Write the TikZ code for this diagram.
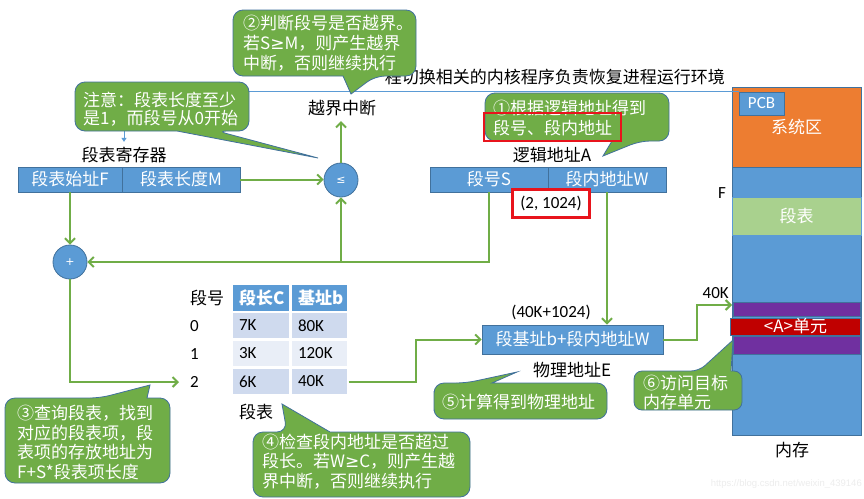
\documentclass[tikz,border=0pt]{standalone}
\usepackage{fontspec}
\setmainfont{Noto Sans CJK SC}
\newfontfamily\latfont{Carlito}
\newfontfamily\wmfont{Liberation Sans}
\newfontfamily\symfont{DejaVu Sans}
\usetikzlibrary{arrows.meta}
\definecolor{cgreen}{HTML}{70AD47}
\definecolor{cborder}{HTML}{41719C}
\definecolor{cblue}{HTML}{5B9BD5}
\definecolor{corange}{HTML}{ED7D31}
\definecolor{clgreen}{HTML}{A9D18E}
\definecolor{cpurple}{HTML}{7030A0}
\definecolor{cred}{HTML}{C00000}
\definecolor{redc}{HTML}{E8141C}
\definecolor{crowa}{HTML}{CFDAEE}
\definecolor{crowb}{HTML}{E9EEF7}
\begin{document}
\begin{tikzpicture}[x=1pt,y=-1pt,
  lbl/.style={inner sep=2pt, font=\fontsize{17}{20}\selectfont},
  latlbl/.style={inner sep=2pt, font=\latfont\fontsize{17}{20}\selectfont},
  bluebox/.style={rectangle, draw=cborder, fill=cblue, line width=0.8pt, text=white, inner sep=0pt, minimum height=25pt, font=\fontsize{17}{20}\selectfont},
  circ/.style={circle, fill=cblue, draw=cborder, line width=0.8pt, minimum size=34pt, inner sep=0pt, text=white, font=\symfont\fontsize{11}{12}\selectfont},
  callout/.style={fill=cgreen, draw=cborder, line width=0.8pt},
  ctxt/.style={text=white, align=left, anchor=west, inner sep=0pt},
  garrow/.style={draw=cgreen, line width=2pt, -{Straight Barb[length=5pt,width=10pt]}},
  bline/.style={draw=cblue, line width=0.9pt, -{Triangle[length=4pt,width=5pt]}},
  cell/.style={rectangle, draw=white, line width=1.2pt, minimum height=27pt, inner xsep=7pt, inner ysep=0pt, align=left, font=\latfont\fontsize{17}{20}\selectfont},
  hdr/.style={fill=cblue, text=white, font=\fontsize{17}{20}\selectfont\bfseries},
  membox/.style={rectangle, inner sep=0pt, line width=0.8pt}
]
\useasboundingbox (0,0) rectangle (864,498);
\fill[white] (0,0) rectangle (864,498);

% ---------- memory column ----------
\node[membox, fill=cblue, draw=cborder, minimum width=129pt, minimum height=348pt] (mem) at (796.5,261) {};
\node[membox, fill=corange, draw=cborder, minimum width=129pt, minimum height=80pt, text=white, font=\fontsize{17}{20}\selectfont] (sys) at (796.5,127) {系统区};
\node[membox, fill=clgreen, draw=cblue, minimum width=129pt, minimum height=38pt, text=white, font=\fontsize{17}{20}\selectfont] (segt) at (796.5,216) {段表};
\node[membox, fill=cpurple, draw=cborder, line width=0.5pt, minimum width=127pt, minimum height=14pt] (pu1) at (797,309) {};
\node[membox, fill=cred, draw=cborder, line width=0.5pt, minimum width=130pt, minimum height=17pt, text=white, font=\fontsize{17}{20}\selectfont] (au) at (795.5,326.5) {<A>单元};
\node[membox, fill=cpurple, draw=cborder, line width=0.5pt, minimum width=127pt, minimum height=18pt] (pu2) at (797,345) {};
\node[membox, fill=cblue, draw=cborder, minimum width=45pt, minimum height=23pt, text=white, font=\latfont\fontsize{17}{20}\selectfont] (pcb) at (761.5,103.5) {PCB};
\node[latlbl] (flbl) at (722,193) {F};
\node[latlbl, anchor=east] (k40l) at (731,293) {40K};
\node[lbl] (meml) at (792,450) {内存};
\coordinate (k40) at (732,305);

% ---------- top text ----------
\node[lbl, anchor=east] (toptxt) at (727,77) {程切换相关的内核程序负责恢复进程运行环境};

% ---------- segment table register ----------
\node[bluebox, minimum width=104pt] (reg1) at (70,179.5) {段表始址F};
\node[bluebox, minimum width=118pt] (reg2) at (181,179.5) {段表长度M};
\node[lbl] (regl) at (124,155) {段表寄存器};

% ---------- logical address ----------
\node[bluebox, minimum width=118pt] (la1) at (489,179.5) {段号S};
\node[bluebox, minimum width=118pt] (la2) at (607,179.5) {段内地址W};
\node[lbl] (lal) at (552,155) {逻辑地址A};
\node[draw=redc, line width=2.5pt, fill=white, minimum width=77pt, minimum height=28pt, inner sep=0pt, font=\latfont\fontsize{17}{20}\selectfont] (pair) at (551,203.5) {(2, 1024)};

% ---------- comparators ----------
\node[circ] (le) at (341,180) {≤};
\node[circ] (plus) at (70,262) {+};
\node[lbl] (ovf) at (342,108) {越界中断};

% ---------- segment table ----------
\node[lbl, anchor=west, inner sep=0pt] (th) at (190,298) {段号};
\node[latlbl, anchor=west, inner sep=0pt] (n0) at (190,326) {0};
\node[latlbl, anchor=west, inner sep=0pt] (n1) at (190,354) {1};
\node[latlbl, anchor=west, inner sep=0pt] (n2) at (190,382) {2};
\node[cell, hdr, text width=44pt] (h1) at (261,298) {段长C};
\node[cell, hdr, text width=43pt] (h2) at (319.5,298) {基址b};
\node[cell, fill=crowa, text width=44pt] (r0a) at (261,325.5) {7K};
\node[cell, fill=crowa, text width=43pt] (r0b) at (319.5,325.5) {80K};
\node[cell, fill=crowb, text width=44pt] (r1a) at (261,353.5) {3K};
\node[cell, fill=crowb, text width=43pt] (r1b) at (319.5,353.5) {120K};
\node[cell, fill=crowa, text width=44pt] (r2a) at (261,381.5) {6K};
\node[cell, fill=crowa, text width=43pt] (r2b) at (319.5,381.5) {40K};
\node[lbl] (tcap) at (256,412) {段表};

% ---------- physical address ----------
\node[bluebox, minimum width=181pt, minimum height=29pt] (pa) at (572.5,339.5) {段基址b+段内地址W};
\node[latlbl] (paval) at (551,312) {(40K+1024)};
\node[lbl] (pal) at (572,370) {物理地址E};

% ---------- connectors ----------
\draw[bline, shorten >=3pt] (pcb.north west) -| (regl.north);
\draw[garrow] (reg2.east) -- (reg2.east -| le.west);
\draw[garrow, shorten >=3pt] (le.north) -- (le.north |- ovf.south);
\draw[garrow] (reg1.south) -- (plus.north);
\draw[garrow] (la1.south) -- (la1.south |- plus.east) -- (plus.east);
\draw[garrow] (le.south |- plus.east) -- (le.south);
\draw[garrow] (la2.south) -- (la2.south |- pa.north);
\draw[garrow, shorten >=11pt] (plus.south) |- (n2.west);
\draw[garrow] (r2b.east) -- ++(67,0) |- (pa.west);
\draw[garrow] (pa.east) -- ++(34,0) |- (k40);

% ---------- callouts ----------
% (2)
\path[callout] (233,43) [rounded corners=10pt] -- (233,10) -- (416,10) -- (416,76) -- (375,76) [sharp corners] -- (351,94) -- (343,76) [rounded corners=10pt] -- (233,76) -- cycle;
\node[ctxt, font=\fontsize{17}{20}\selectfont] (c2) at (243,43) {②判断段号是否越界。\\若S{\symfont ≥}M，则产生越界\\中断，否则继续执行};
% note
\path[callout] (75,106) [rounded corners=10pt] -- (75,82) -- (249,82) -- (249,131) -- (217,131) [sharp corners] -- (318,158) -- (177,131) [rounded corners=10pt] -- (75,131) -- cycle;
\node[ctxt, font=\fontsize{17}{18}\selectfont] (cn) at (83,109) {注意：段表长度至少\\是1，而段号从0开始};
% (1)
\path[callout] (485,117) [rounded corners=10pt] -- (485,93) -- (669,93) -- (669,141) -- (640,141) [sharp corners] -- (603,156) -- (612,141) [rounded corners=10pt] -- (485,141) -- cycle;
\node[ctxt, font=\fontsize{17}{20}\selectfont] (c1) at (493,118) {①根据逻辑地址得到\\段号、段内地址};
\draw[redc, line width=2.5pt] (484,113) rectangle (621,141);
% (3)
\path[callout] (5,440) [rounded corners=10pt] -- (5,398) -- (100,398) [sharp corners] -- (150,385) -- (147,398) [rounded corners=10pt] -- (170,398) -- (170,483) -- (5,483) -- cycle;
\node[ctxt, font=\fontsize{17}{19.7}\selectfont] (c3) at (17,442.5) {③查询段表，找到\\对应的段表项，段\\表项的存放地址为\\F+S*段表项长度};
% (4)
\path[callout] (253,465) [rounded corners=10pt] -- (253,432) -- (287,432) [sharp corners] -- (282,404) -- (330,432) [rounded corners=10pt] -- (470,432) -- (470,497) -- (253,497) -- cycle;
\node[ctxt, font=\fontsize{17}{19.5}\selectfont] (c4) at (262,461.5) {④检查段内地址是否超过\\段长。若W{\symfont ≥}C，则产生越\\界中断，否则继续执行};
% (5)
\path[callout] (434,401) [rounded corners=10pt] -- (434,383) -- (466,383) [sharp corners] -- (517,372) -- (492,383) [rounded corners=10pt] -- (607,383) -- (607,419) -- (434,419) -- cycle;
\node[ctxt, font=\fontsize{17}{20}\selectfont] (c5) at (442,402) {⑤计算得到物理地址};
% (6)
\path[callout] (634,390) [rounded corners=8pt] -- (634,371) -- (699,371) [sharp corners] -- (733,340) -- (731,371) [rounded corners=8pt] -- (742,371) -- (742,410) -- (634,410) -- cycle;
\node[ctxt, font=\fontsize{17}{19}\selectfont] (c6) at (643,392.5) {⑥访问目标\\内存单元};

% watermark
\node[anchor=east, inner sep=0pt, text=black!7, font=\wmfont\fontsize{9.5}{11}\selectfont] (wm) at (862,484) {https://blog.csdn.net/weixin\_439146};
\end{tikzpicture}
\end{document}
